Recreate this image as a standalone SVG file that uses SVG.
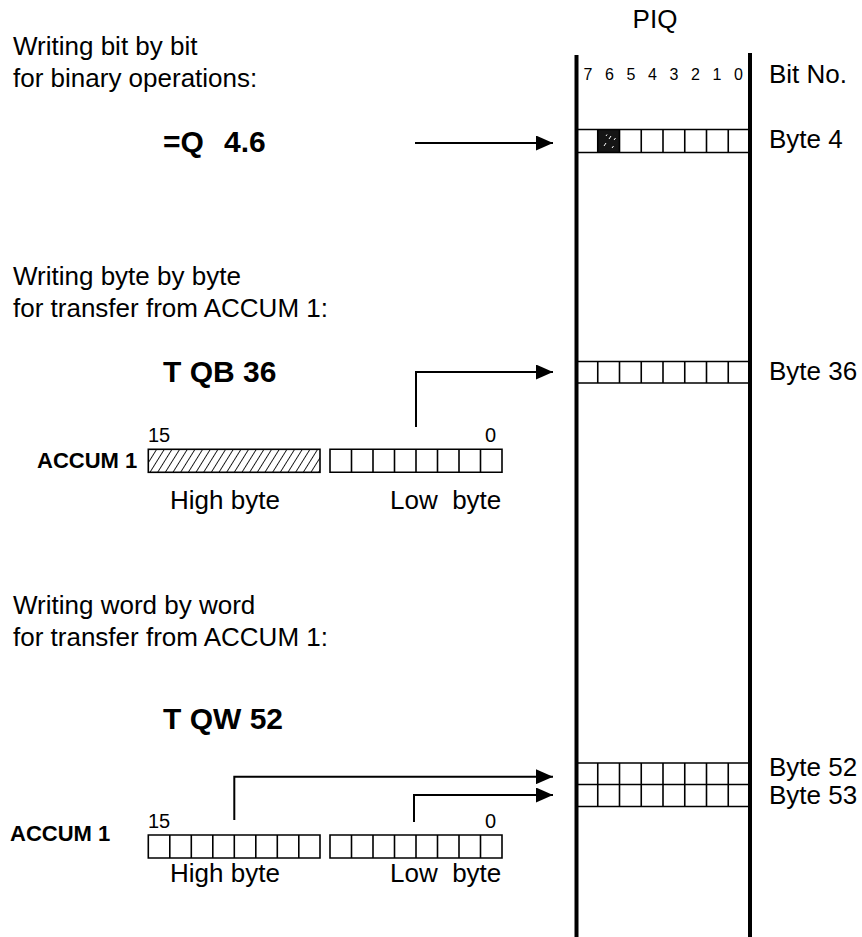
<svg xmlns="http://www.w3.org/2000/svg" width="862" height="937" viewBox="0 0 862 937">
<style>
text{font-family:"Liberation Sans",Arial,sans-serif;fill:#000}
.h{font-size:26px}
.b{font-size:30px;font-weight:bold}
.acc{font-size:22px;font-weight:bold}
.bit{font-size:16px}
.n{font-size:20px}
.cell{fill:none;stroke:#000;stroke-width:1.6}
.thick{stroke:#000;stroke-width:4;fill:none}
.conn{fill:none;stroke:#000;stroke-width:2}
</style>
<defs>
<marker id="ah" markerUnits="userSpaceOnUse" markerWidth="17" markerHeight="15" refX="17" refY="7.5" orient="auto">
<path d="M0,0 L17,7.5 L0,15 Z" fill="#000"/>
</marker>
<pattern id="hatch" patternUnits="userSpaceOnUse" width="6.5" height="7" patternTransform="rotate(32)">
<line x1="0" y1="0" x2="0" y2="7" stroke="#000" stroke-width="1.7"/>
</pattern>
</defs>

<g id="piq">
<text class="h" x="655" y="28" text-anchor="middle">PIQ</text>
<line class="thick" x1="576.5" y1="55" x2="576.5" y2="937"/>
<line class="thick" x1="750" y1="53" x2="750" y2="937"/>
<g class="bit" text-anchor="middle">
<text x="588" y="80">7</text><text x="609.5" y="80">6</text><text x="631" y="80">5</text><text x="652.5" y="80">4</text>
<text x="674" y="80">3</text><text x="695.5" y="80">2</text><text x="717" y="80">1</text><text x="738.5" y="80">0</text>
</g>
<text class="h" x="769" y="83">Bit No.</text>
</g>

<g id="byte4">
<rect x="597.75" y="129.5" width="21.75" height="23" fill="#151515"/>
<path d="M604,146 l2,-3 M609,139 l2,-3 M612,148 l1.5,-2 M606,136 l1,-1.5 M614,140 l1.5,-2" stroke="#fff" stroke-width="1"/>
<path class="cell" d="M576,129.5 H750 M576,152.5 H750 M597.75,129.5 V152.5 M619.5,129.5 V152.5 M641.25,129.5 V152.5 M663,129.5 V152.5 M684.75,129.5 V152.5 M706.5,129.5 V152.5 M728.25,129.5 V152.5"/>
<text class="h" x="769" y="148">Byte 4</text>
</g>

<g id="byte36">
<path class="cell" d="M576,361.5 H750 M576,383 H750 M597.75,361.5 V383 M619.5,361.5 V383 M641.25,361.5 V383 M663,361.5 V383 M684.75,361.5 V383 M706.5,361.5 V383 M728.25,361.5 V383"/>
<text class="h" x="769" y="380">Byte 36</text>
</g>

<g id="byte52_53">
<path class="cell" d="M576,763 H750 M576,784.5 H750 M576,806.5 H750 M597.75,763 V806.5 M619.5,763 V806.5 M641.25,763 V806.5 M663,763 V806.5 M684.75,763 V806.5 M706.5,763 V806.5 M728.25,763 V806.5"/>
<text class="h" x="769" y="776">Byte 52</text>
<text class="h" x="769" y="804">Byte 53</text>
</g>

<g id="section1">
<text class="h" x="13" y="55">Writing bit by bit</text>
<text class="h" x="13" y="87">for binary operations:</text>
<text class="b" y="152"><tspan x="163">=Q</tspan><tspan x="224">4.6</tspan></text>
</g>

<g id="section2">
<text class="h" x="13" y="285">Writing byte by byte</text>
<text class="h" x="13" y="317">for transfer from ACCUM 1:</text>
<text class="b" x="163" y="382">T QB 36</text>
</g>

<g id="accum1_byte">
<text class="acc" x="37" y="468">ACCUM 1</text>
<text class="n" x="148" y="442">15</text>
<text class="n" x="485" y="442">0</text>
<rect x="148.3" y="449.3" width="171.7" height="23" fill="url(#hatch)" stroke="#000" stroke-width="1.6"/>
<path class="cell" d="M330,449.3 H502 V472.3 H330 Z M351.5,449.3 V472.3 M373,449.3 V472.3 M394.5,449.3 V472.3 M416,449.3 V472.3 M437.5,449.3 V472.3 M459,449.3 V472.3 M480.5,449.3 V472.3"/>
<text class="h" x="170" y="509">High byte</text>
<text class="h" x="390" y="509" xml:space="preserve">Low  byte</text>
</g>

<g id="section3">
<text class="h" x="13" y="614">Writing word by word</text>
<text class="h" x="13" y="646">for transfer from ACCUM 1:</text>
<text class="b" x="163" y="729">T QW 52</text>
</g>

<g id="accum1_word">
<text class="acc" x="10" y="841">ACCUM 1</text>
<text class="n" x="148" y="828">15</text>
<text class="n" x="485" y="828">0</text>
<path class="cell" d="M148.3,835 H320 V858 H148.3 Z M169.8,835 V858 M191.3,835 V858 M212.8,835 V858 M234.3,835 V858 M255.8,835 V858 M277.3,835 V858 M298.8,835 V858"/>
<path class="cell" d="M330,835 H502 V858 H330 Z M351.5,835 V858 M373,835 V858 M394.5,835 V858 M416,835 V858 M437.5,835 V858 M459,835 V858 M480.5,835 V858"/>
<text class="h" x="170" y="882">High byte</text>
<text class="h" x="390" y="882" xml:space="preserve">Low  byte</text>
</g>

<g id="connectors">
<path class="conn" d="M415,143 H553" marker-end="url(#ah)"/>
<path class="conn" d="M416,427 V372 H553" marker-end="url(#ah)"/>
<path class="conn" d="M234.3,820 V776.7 H553" marker-end="url(#ah)"/>
<path class="conn" d="M414,822 V795 H553" marker-end="url(#ah)"/>
</g>
</svg>
